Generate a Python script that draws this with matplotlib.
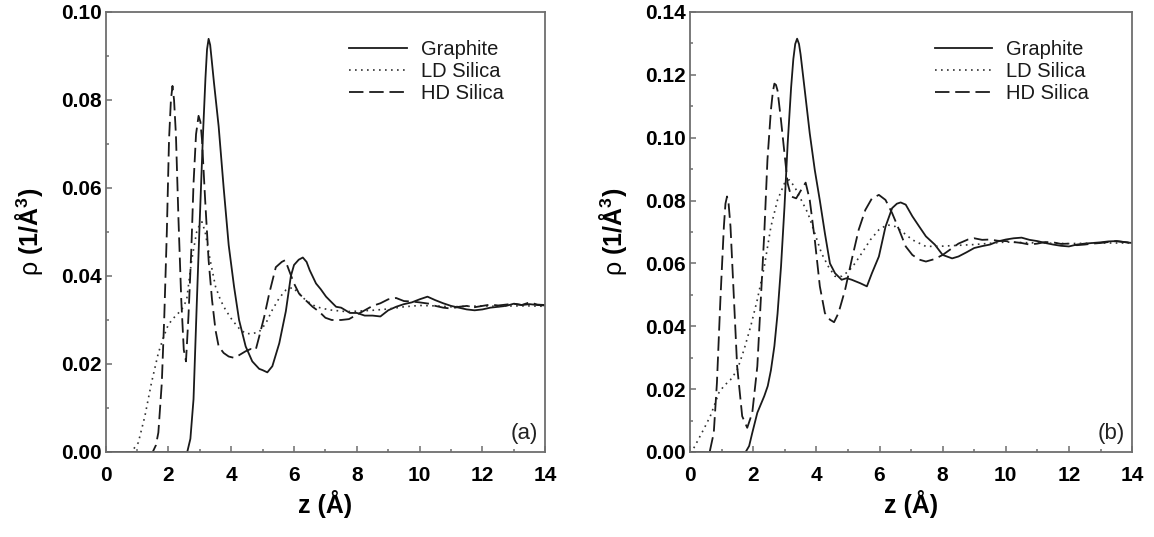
import numpy as np
import matplotlib as mpl
mpl.use("Agg")
import matplotlib.pyplot as plt
from matplotlib.ticker import MultipleLocator, FormatStrFormatter

mpl.rcParams["font.family"] = ["Liberation Sans", "DejaVu Sans"]
mpl.rcParams["mathtext.fontset"] = "custom"
mpl.rcParams["mathtext.rm"] = "Liberation Sans"
mpl.rcParams["mathtext.bf"] = "Liberation Sans:bold"

# density profiles, columns are z (A) and rho (1/A^3)
graphite_a = np.array([
    [0, 0], [2.6, 0], [2.7, 0.003], [2.8, 0.012], [2.9, 0.033], [3.0, 0.053],
    [3.1, 0.072], [3.18, 0.085], [3.23, 0.0915], [3.28, 0.0939], [3.33, 0.0925],
    [3.38, 0.089], [3.45, 0.084], [3.6, 0.074], [3.76, 0.060], [3.92, 0.047],
    [4.09, 0.0376], [4.25, 0.030], [4.46, 0.024], [4.67, 0.0206], [4.89, 0.0189],
    [5.0, 0.0186], [5.15, 0.0181], [5.31, 0.0195], [5.53, 0.0247], [5.74, 0.032],
    [5.9, 0.040], [6.0, 0.0425], [6.15, 0.0437], [6.28, 0.0442], [6.4, 0.0432],
    [6.5, 0.0413], [6.7, 0.0383], [6.85, 0.037], [7.02, 0.0353], [7.2, 0.034],
    [7.34, 0.033], [7.5, 0.0328], [7.78, 0.0316], [8.0, 0.0316], [8.25, 0.031],
    [8.5, 0.031], [8.75, 0.0308], [9.0, 0.0322], [9.25, 0.033], [9.5, 0.0336],
    [9.75, 0.034], [10.0, 0.0347], [10.25, 0.0353], [10.5, 0.0345],
    [10.75, 0.0338], [11.0, 0.0332], [11.25, 0.0328], [11.5, 0.0324],
    [11.75, 0.0322], [12.0, 0.0324], [12.25, 0.0328], [12.5, 0.033],
    [12.75, 0.0332], [13.0, 0.0337], [13.25, 0.0334], [13.5, 0.0336],
    [13.75, 0.0334], [14.0, 0.0333]])

ld_silica_a = np.array([
    [0, 0], [0.82, 0], [1.04, 0.0021], [1.25, 0.0081], [1.46, 0.0157],
    [1.68, 0.0225], [1.84, 0.026], [2.0, 0.029], [2.21, 0.0308], [2.42, 0.0323],
    [2.58, 0.0345], [2.74, 0.0436], [2.90, 0.050], [3.0, 0.0518], [3.07, 0.0523],
    [3.17, 0.050], [3.33, 0.0436], [3.50, 0.0376], [3.66, 0.0345], [3.82, 0.0323],
    [4.03, 0.030], [4.25, 0.0281], [4.46, 0.0269], [4.67, 0.0269], [4.89, 0.0273],
    [5.10, 0.0292], [5.31, 0.0323], [5.53, 0.035], [5.74, 0.0368], [5.96, 0.0374],
    [6.16, 0.036], [6.37, 0.0345], [6.70, 0.033], [7.12, 0.0323], [7.66, 0.0319],
    [8.0, 0.032], [8.5, 0.0322], [9.0, 0.0325], [9.5, 0.033], [10.0, 0.0333],
    [10.5, 0.0332], [11.0, 0.033], [11.5, 0.0331], [12.0, 0.0332], [12.5, 0.0331],
    [13.0, 0.0332], [13.5, 0.0332], [14.0, 0.0331]])

hd_silica_a = np.array([
    [0, 0], [1.5, 0], [1.6, 0.0015], [1.68, 0.0044], [1.79, 0.0157], [1.87, 0.031],
    [1.95, 0.050], [2.02, 0.071], [2.08, 0.080], [2.13, 0.0832], [2.18, 0.080],
    [2.24, 0.072], [2.32, 0.053], [2.41, 0.0345], [2.49, 0.0232], [2.56, 0.0206],
    [2.64, 0.031], [2.73, 0.046], [2.80, 0.061], [2.88, 0.0722], [2.96, 0.0764],
    [3.02, 0.075], [3.07, 0.0709], [3.17, 0.0573], [3.28, 0.0436], [3.39, 0.0345],
    [3.50, 0.0277], [3.60, 0.024], [3.76, 0.0225], [3.92, 0.0217], [4.09, 0.0214],
    [4.25, 0.022], [4.46, 0.0229], [4.62, 0.0234], [4.78, 0.0232], [4.89, 0.0262],
    [5.05, 0.0307], [5.21, 0.036], [5.42, 0.042], [5.61, 0.0432], [5.72, 0.0436],
    [5.84, 0.0413], [6.0, 0.0383], [6.16, 0.036], [6.37, 0.0345], [6.59, 0.033],
    [6.80, 0.0319], [7.0, 0.0305], [7.2, 0.030], [7.5, 0.030], [7.75, 0.0302],
    [8.0, 0.0312], [8.25, 0.0322], [8.5, 0.0332], [8.75, 0.0338], [9.0, 0.0347],
    [9.25, 0.035], [9.5, 0.0343], [9.75, 0.0342], [10.0, 0.034], [10.3, 0.0337],
    [10.5, 0.0332], [10.75, 0.0328], [11.0, 0.0326], [11.25, 0.033], [11.5, 0.0332],
    [11.75, 0.0329], [12.0, 0.0332], [12.25, 0.0335], [12.5, 0.0333],
    [12.75, 0.0335], [13.0, 0.0337], [13.25, 0.0334], [13.5, 0.034],
    [13.75, 0.0335], [14.0, 0.0334]])

graphite_b = np.array([
    [0, 0], [1.76, 0], [1.87, 0.0019], [1.97, 0.0061], [2.13, 0.0125], [2.35, 0.0178],
    [2.46, 0.021], [2.56, 0.026], [2.67, 0.0337], [2.77, 0.044], [2.88, 0.059],
    [2.99, 0.078], [3.09, 0.098], [3.20, 0.116], [3.27, 0.125], [3.33, 0.1298],
    [3.39, 0.1315], [3.45, 0.1298], [3.50, 0.1265], [3.63, 0.1153], [3.79, 0.1014],
    [3.95, 0.0897], [4.11, 0.080], [4.27, 0.0696], [4.43, 0.060], [4.59, 0.0569],
    [4.80, 0.0548], [4.96, 0.0553], [5.12, 0.0548], [5.39, 0.0537], [5.60, 0.0527],
    [5.76, 0.0569], [5.98, 0.0622], [6.19, 0.0717], [6.40, 0.0776], [6.55, 0.079],
    [6.67, 0.0794], [6.83, 0.0787], [7.04, 0.075], [7.26, 0.0717], [7.47, 0.0686],
    [7.75, 0.066], [8.0, 0.0627], [8.3, 0.0616], [8.5, 0.0622], [8.75, 0.0635],
    [9.0, 0.0649], [9.25, 0.0655], [9.5, 0.066], [9.75, 0.067], [10.0, 0.0676],
    [10.25, 0.068], [10.5, 0.0682], [10.75, 0.0675], [11.0, 0.0671],
    [11.25, 0.0665], [11.5, 0.066], [11.75, 0.0656], [12.0, 0.0654],
    [12.25, 0.066], [12.5, 0.0663], [12.75, 0.0665], [13.0, 0.0667],
    [13.25, 0.067], [13.5, 0.0671], [13.75, 0.0668], [14.0, 0.0665]])

ld_silica_b = np.array([
    [0, 0], [0.05, 0], [0.21, 0.003], [0.43, 0.0072], [0.64, 0.0114], [0.80, 0.0157],
    [0.91, 0.0188], [1.07, 0.021], [1.28, 0.023], [1.49, 0.026], [1.71, 0.0326],
    [1.92, 0.040], [2.13, 0.0485], [2.35, 0.059], [2.56, 0.0717], [2.77, 0.0802],
    [2.99, 0.0855], [3.14, 0.0866], [3.31, 0.0844], [3.52, 0.0802], [3.73, 0.076],
    [3.95, 0.0696], [4.16, 0.0633], [4.38, 0.059], [4.59, 0.0559], [4.80, 0.0559],
    [5.02, 0.0575], [5.23, 0.0601], [5.44, 0.0633], [5.71, 0.0675], [5.98, 0.0707],
    [6.24, 0.0723], [6.51, 0.0717], [6.78, 0.0696], [7.04, 0.0675], [7.47, 0.0654],
    [8.0, 0.0655], [9.0, 0.066], [10.0, 0.0668], [11.0, 0.0665], [12.0, 0.0663],
    [13.0, 0.0665], [14.0, 0.0665]])

hd_silica_b = np.array([
    [0, 0], [0.62, 0], [0.75, 0.0061], [0.85, 0.022], [0.96, 0.0485], [1.07, 0.0717],
    [1.12, 0.079], [1.17, 0.0813], [1.22, 0.079], [1.28, 0.0717], [1.39, 0.0485],
    [1.49, 0.0273], [1.65, 0.0114], [1.81, 0.0077], [1.97, 0.0125], [2.13, 0.0273],
    [2.24, 0.0485], [2.35, 0.0696], [2.45, 0.0929], [2.56, 0.1088], [2.62, 0.1145],
    [2.67, 0.1172], [2.72, 0.1168], [2.77, 0.115], [2.88, 0.1055], [2.99, 0.095],
    [3.09, 0.0855], [3.20, 0.0813], [3.36, 0.0807], [3.52, 0.0834], [3.66, 0.0857],
    [3.79, 0.0802], [3.95, 0.0675], [4.11, 0.0527], [4.27, 0.0442], [4.43, 0.0421],
    [4.56, 0.0413], [4.70, 0.0442], [4.91, 0.0516], [5.12, 0.0612], [5.34, 0.0707],
    [5.55, 0.077], [5.76, 0.0807], [5.98, 0.0818], [6.19, 0.0802], [6.40, 0.076],
    [6.62, 0.0707], [6.83, 0.0654], [7.04, 0.0627], [7.26, 0.0612], [7.47, 0.0606],
    [7.75, 0.0614], [8.0, 0.0627], [8.25, 0.0645], [8.5, 0.0663], [8.8, 0.0676],
    [9.0, 0.068], [9.25, 0.0675], [9.5, 0.0676], [9.75, 0.0672], [10.0, 0.0671],
    [10.25, 0.0668], [10.5, 0.0665], [10.75, 0.066], [11.0, 0.0663],
    [11.25, 0.0668], [11.5, 0.0667], [11.75, 0.0662], [12.0, 0.0663],
    [12.25, 0.0658], [12.5, 0.066], [12.75, 0.0663], [13.0, 0.0665],
    [13.25, 0.0668], [13.5, 0.0671], [13.75, 0.0668], [14.0, 0.0665]])

labels = ["Graphite", "LD Silica", "HD Silica"]
panel_names = ["(a)", "(b)"]
y_max = [0.10, 0.14]

ink = "#1a1a1a"
spine_grey = "#6e6e6e"


def draw_panel(ax, graphite, ld, hd, ymax, name):
    ax.plot(graphite[:, 0], graphite[:, 1], color=ink, lw=1.3, label=labels[0])
    ax.plot(ld[:, 0], ld[:, 1], color="#333333", lw=1.2, dashes=(1, 2.6),
            label=labels[1])
    ax.plot(hd[:, 0], hd[:, 1], color=ink, lw=1.3, dashes=(8, 3.2), label=labels[2])

    ax.set_xlim(0, 14)
    ax.set_ylim(0, ymax)
    ax.xaxis.set_major_locator(MultipleLocator(2))
    ax.xaxis.set_minor_locator(MultipleLocator(1))
    ax.yaxis.set_major_locator(MultipleLocator(0.02))
    ax.yaxis.set_minor_locator(MultipleLocator(0.01))
    ax.yaxis.set_major_formatter(FormatStrFormatter("%.2f"))

    for s in ax.spines.values():
        s.set_color(spine_grey)
        s.set_linewidth(1.3)
    ax.tick_params(which="both", direction="in", color=spine_grey, width=1.1,
                   top=False, right=False)
    ax.tick_params(which="major", length=4.3)
    ax.tick_params(which="minor", length=2.5)
    ax.tick_params(axis="x", pad=10)
    ax.tick_params(axis="y", pad=3)
    for lab in ax.get_xticklabels() + ax.get_yticklabels():
        lab.set_fontsize(15)
        lab.set_fontweight("bold")

    ax.set_xlabel("z (Å)", fontsize=18, fontweight="bold", va="center")
    ax.xaxis.set_label_coords(0.5, -0.118)
    ax.set_ylabel(r"$\mathrm{\rho}$ (1/Å$^{\mathbf{3}}$)", fontsize=18,
                  fontweight="bold", va="center")
    ax.yaxis.set_label_coords(-0.174, 0.5)

    leg = ax.legend(loc="upper left", bbox_to_anchor=(0.553, 0.936), frameon=False,
                    fontsize=14.5, borderpad=0, borderaxespad=0, handlelength=2.87,
                    handletextpad=0.7, labelspacing=0.15)
    for t in leg.get_texts():
        t.set_color(ink)

    ax.text(0.984, 0.018, name, transform=ax.transAxes, ha="right", va="bottom",
            fontsize=16, color="#222222")


fig = plt.figure(figsize=(11.54, 5.37), dpi=100)
ax_a = fig.add_axes([0.0915, 0.1583, 0.381, 0.8194])
ax_b = fig.add_axes([0.598, 0.1583, 0.383, 0.8194])

draw_panel(ax_a, graphite_a, ld_silica_a, hd_silica_a, y_max[0], panel_names[0])
draw_panel(ax_b, graphite_b, ld_silica_b, hd_silica_b, y_max[1], panel_names[1])

fig.savefig("out.png", dpi=100)
